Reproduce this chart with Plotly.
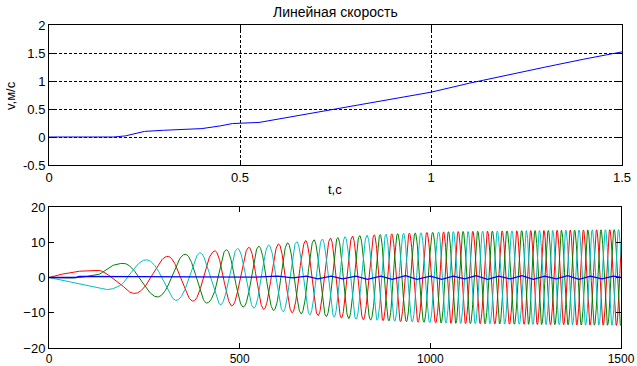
import numpy as np
import plotly.graph_objects as go

# ---------------- data ----------------
# top: linear speed
speed_t = [0.0, 0.17, 0.20, 0.25, 0.30, 0.40, 0.45, 0.48, 0.55, 0.60, 0.70, 0.80,
           0.90, 1.00, 1.10, 1.20, 1.30, 1.40, 1.50]
speed_v = [0.0, 0.0, 0.02, 0.10, 0.12, 0.15, 0.20, 0.24, 0.26, 0.32, 0.44, 0.56,
           0.68, 0.80, 0.96, 1.11, 1.25, 1.39, 1.52]

# bottom: three-phase currents, described by electrical angle and amplitude
# read at sample positions (peaks / zero crossings seen in the picture)
phase_s = [0, 72, 134, 164, 191, 221, 252, 282, 309, 333, 357, 377, 396, 413,
           435, 524, 602, 673, 738, 853, 1024, 1246, 1500]
phase_deg = [20, 27, 49, 90, 120, 180, 240, 300, 360, 420, 480, 540, 600, 660,
             720, 1080, 1440, 1800, 2160, 2880, 4219, 6300, 8946]
amp_s = [0, 20, 72, 134, 164, 191, 221, 252, 282, 309, 333, 377, 396, 431,
         520, 600, 684, 800, 920, 1050, 1250, 1500]
amp_v = [0.0, 0.7, 1.9, 3.05, 3.8, 4.0, 4.5, 5.0, 5.5, 6.0, 6.5, 6.7, 7.0, 7.5,
         8.5, 9.5, 10.6, 11.8, 12.5, 13.0, 13.3, 13.6]
phase_shift = {"red": 0, "green": -120, "cyan": 120}

# blue (small ripple) signal
blue_s = [0, 70, 80, 300, 430, 470, 540, 600, 640, 675, 705, 740, 770, 805, 835,
          870, 900, 935, 965, 1000, 1030, 1060, 1090, 1120, 1150, 1180, 1210,
          1240, 1270, 1300, 1330, 1360, 1390, 1420, 1450, 1480, 1500]
blue_v = [0.0, 0.0, 0.3, 0.3, 0.3, 0.1, 0.1, 0.4, -0.1, 0.4, -0.4, 0.4, -0.4,
          0.4, -0.5, 0.4, -0.5, 0.5, -0.5, 0.4, -0.5, 0.4, -0.4, 0.5, -0.5,
          0.4, -0.4, 0.5, -0.5, 0.4, -0.4, 0.5, -0.5, 0.4, -0.4, 0.4, 0.0]

x_ticks_top = [0, 0.5, 1, 1.5]
x_labels_top = ["0", "0.5", "1", "1.5"]
y_ticks_top = [-0.5, 0, 0.5, 1, 1.5, 2]
y_labels_top = ["-0.5", "0", "0.5", "1", "1.5", "2"]
x_ticks_bot = [0, 500, 1000, 1500]
y_ticks_bot = [-20, -10, 0, 10, 20]

# ---------------- figure ----------------
W, H = 637, 366
ml, mr, mt, mb = 49, 15, 25, 18
ph = H - mt - mb
pw = W - ml - mr

def ydom(top_px, bot_px):
    return [(H - mb - bot_px) / ph, (H - mb - top_px) / ph]

def px_to_paper(xp, yp):
    return (xp - ml) / pw, (H - mb - yp) / ph

FONT = "Arial, Liberation Sans, sans-serif"
fig = go.Figure()

fig.add_trace(go.Scatter(x=speed_t, y=speed_v, mode="lines",
                         line=dict(color="#0000ff", width=1),
                         xaxis="x", yaxis="y", showlegend=False))

s = np.arange(0, 1501, 1.0)
phi = np.interp(s, phase_s, phase_deg)
A = np.interp(s, amp_s, amp_v)
colors = {"red": "#ff0000", "green": "#008000", "cyan": "#00bfbf"}
for name in ["red", "green", "cyan"]:
    y = A * np.cos(np.deg2rad(phi + phase_shift[name]))
    fig.add_trace(go.Scatter(x=s, y=y, mode="lines",
                             line=dict(color=colors[name], width=1),
                             xaxis="x2", yaxis="y2", showlegend=False))
fig.add_trace(go.Scatter(x=blue_s, y=blue_v, mode="lines",
                         line=dict(color="#0000ff", width=1.3),
                         xaxis="x2", yaxis="y2", showlegend=False))

def axis_common(fs=13):
    return dict(showline=True, linecolor="black", linewidth=1, mirror="ticks",
                ticks="inside", ticklen=5, tickcolor="black", zeroline=False,
                automargin=False,
                tickfont=dict(family=FONT, size=fs, color="black"))

fig.update_layout(
    width=W, height=H, margin=dict(l=ml, r=mr, t=mt, b=mb, autoexpand=False),
    paper_bgcolor="white", plot_bgcolor="white",
    xaxis=dict(domain=[0, 1], range=[0, 1.5], tickvals=x_ticks_top,
               ticktext=x_labels_top, anchor="y",
               showgrid=True, gridcolor="black", griddash="3px,2px", gridwidth=1,
               **axis_common()),
    yaxis=dict(domain=ydom(25, 165), range=[-0.5, 2], tickvals=y_ticks_top,
               ticktext=y_labels_top, anchor="x",
               showgrid=True, gridcolor="black", griddash="3px,2px", gridwidth=1,
               **axis_common()),
    xaxis2=dict(domain=[0, (621 - ml) / pw], range=[0, 1500], tickvals=x_ticks_bot,
                anchor="y2", showgrid=False, **axis_common(12)),
    yaxis2=dict(domain=ydom(207, 348), range=[-20, 20], tickvals=y_ticks_bot,
                anchor="x2", showgrid=False, **axis_common()),
)

anns = []
for text, (xp, yp), ang, fs in [("Линейная скорость", (335, 12), 0, 14),
                                ("t,c", (335, 189), 0, 13),
                                ("v,м/с", (10, 96), -90, 13)]:
    xa, ya = px_to_paper(xp, yp)
    anns.append(dict(text=text, x=xa, y=ya, xref="paper", yref="paper",
                     xanchor="center", yanchor="middle", showarrow=False,
                     textangle=ang, font=dict(family=FONT, size=fs, color="black")))
fig.update_layout(annotations=anns)

fig.write_html("out.html", config={"displayModeBar": False},
               post_script="document.body.style.margin='0';document.body.style.overflow='hidden';")
